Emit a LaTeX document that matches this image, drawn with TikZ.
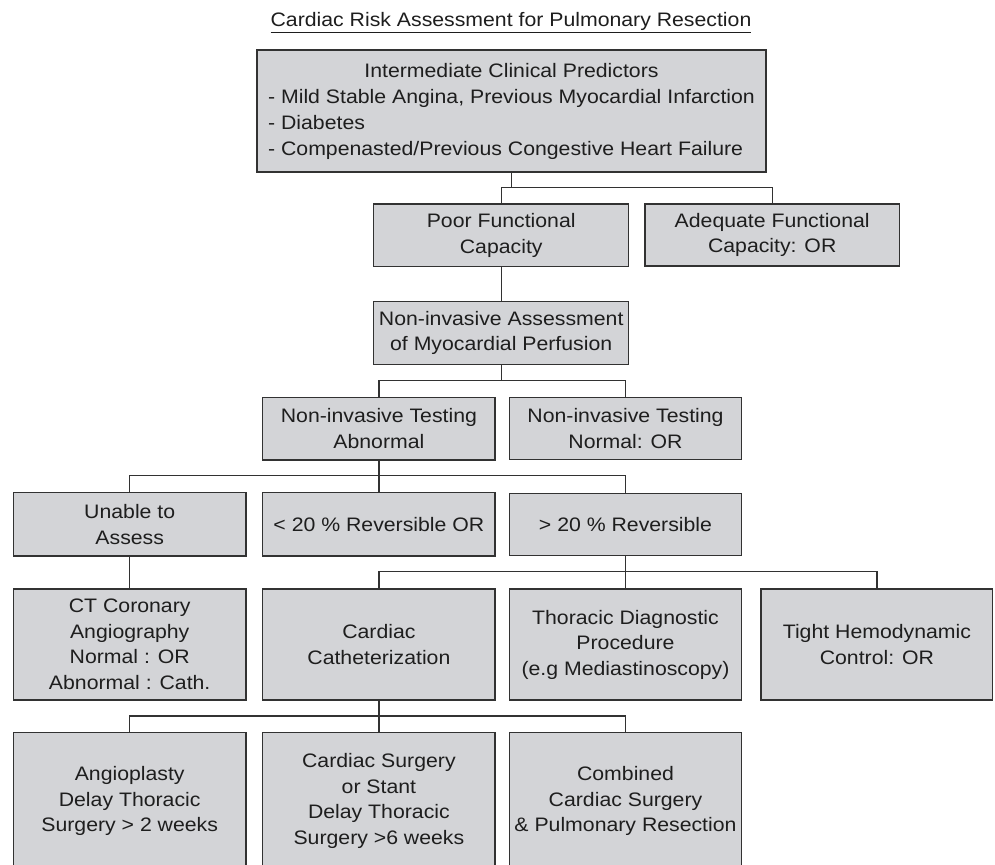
\documentclass[tikz,border=0pt]{standalone}
\usepackage{fontspec}
\setmainfont{Liberation Sans}[FakeStretch=1.09]
\usetikzlibrary{calc}
\definecolor{boxfill}{RGB}{211,212,215}
\definecolor{linecol}{RGB}{50,50,50}
\definecolor{txtcol}{RGB}{30,30,30}
\newcommand\fsz{\fontsize{19.5}{25.5}\selectfont}
\tikzset{
  box/.style={draw=linecol, fill=boxfill, line width=1.2pt, inner sep=0pt,
    align=center, font=\fsz, text=txtcol},
  conn/.style={draw=linecol, line width=1.2pt}
}
\begin{document}
\begin{tikzpicture}[x=1pt,y=-1pt]
\useasboundingbox (0,0) rectangle (995,864);
\clip (0,0) rectangle (995,864);
\fill[white] (0,0) rectangle (995,864);

\node[font=\fsz, text=txtcol, anchor=base] (title) at (511,26.7)
  {\underline{Cardiac Risk Assessment for Pulmonary Resection}};

\node[box, minimum width=509pt, minimum height=122pt] (b1) at (511.5,111)
  {\fontsize{19.5}{26}\selectfont\begin{tabular}{@{}l@{}}
   \multicolumn{1}{@{}c@{}}{Intermediate Clinical Predictors}\\
   - Mild Stable Angina, Previous Myocardial Infarction\\
   - Diabetes\\
   - Compenasted/Previous Congestive Heart Failure
   \end{tabular}};

\node[box, minimum width=255.3pt, minimum height=62.7pt] (b2) at (501.2,235.4)
  {Poor Functional\\Capacity};
\node[box, minimum width=254.3pt, minimum height=62pt] (b3) at (772.2,235)
  {Adequate Functional\\Capacity: OR};
\node[box, minimum width=255.3pt, minimum height=62.6pt] (b4) at (501.2,333)
  {Non-invasive Assessment\\of Myocardial Perfusion};

\node[box, minimum width=232.3pt, minimum height=62.7pt] (b5) at (378.9,428.7)
  {Non-invasive Testing\\Abnormal};
\node[box, minimum width=232.4pt, minimum height=62pt] (b6) at (625.5,428.3)
  {Non-invasive Testing\\Normal: OR};

\node[box, minimum width=232.7pt, minimum height=63.3pt] (b7) at (129.7,524.4)
  {Unable to\\Assess};
\node[box, minimum width=232.3pt, minimum height=63.3pt] (b8) at (378.9,524.4)
  {< 20 \% Reversible OR};
\node[box, minimum width=232.4pt, minimum height=62pt] (b9) at (625.5,524.2)
  {> 20 \% Reversible};

\node[box, minimum width=232.7pt, minimum height=111pt] (b10) at (129.7,644.5)
  {CT Coronary\\Angiography\\Normal : OR\\Abnormal : Cath.};
\node[box, minimum width=232.3pt, minimum height=111pt] (b11) at (378.9,644.5)
  {Cardiac\\Catheterization};
\node[box, minimum width=232.4pt, minimum height=111pt] (b12) at (625.5,644.5)
  {Thoracic Diagnostic\\Procedure\\(e.g Mediastinoscopy)};
\node[box, minimum width=231.7pt, minimum height=111pt] (b13) at (876.9,644.5)
  {Tight Hemodynamic\\Control: OR};

\node[box, minimum width=232.7pt, minimum height=136.6pt] (b14) at (129.7,801)
  {Angioplasty\\Delay Thoracic\\Surgery > 2 weeks};
\node[box, minimum width=232.3pt, minimum height=136.6pt] (b15) at (378.9,801)
  {Cardiac Surgery\\or Stant\\Delay Thoracic\\Surgery >6 weeks};
\node[box, minimum width=232.4pt, minimum height=136.6pt] (b16) at (625.5,801)
  {Combined\\Cardiac Surgery\\\& Pulmonary Resection};

% connectors
\draw[conn] (b2.north) -- ++(0,-16.3) coordinate (k1) -| (b3.north);
\draw[conn] (b1.south) -- (b1.south |- k1);
\draw[conn] (b2.south) -- (b4.north);
\draw[conn] (b5.north) -- ++(0,-16.6) coordinate (k2) -| (b6.north);
\draw[conn] (b4.south) -- (b4.south |- k2);
\draw[conn] (b7.north) -- ++(0,-16.7) coordinate (k3) -| (b9.north);
\draw[conn] (b8.north) -- (b5.south);
\draw[conn] (b7.south) -- (b10.north);
\draw[conn] (b11.north) -- ++(0,-16.7) coordinate (k4) -| (b13.north);
\draw[conn] (b12.north) -- (b9.south);
\draw[conn] (b14.north) -- ++(0,-16.2) coordinate (k5) -| (b16.north);
\draw[conn] (b15.north) -- (b11.south);
\end{tikzpicture}
\end{document}
